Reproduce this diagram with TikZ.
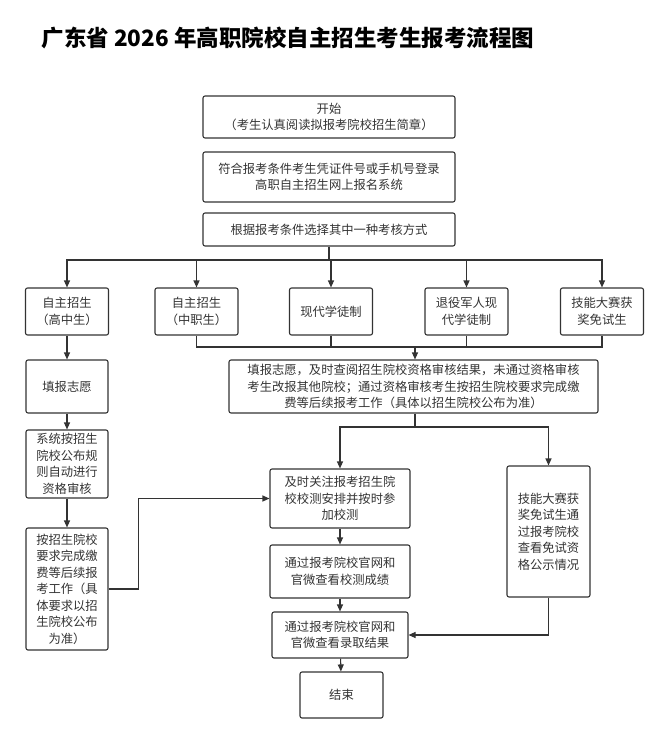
\documentclass[tikz,border=0pt]{standalone}
\usepackage{fontspec}
\setmainfont{Noto Sans CJK SC}
\usetikzlibrary{arrows.meta}
\begin{document}
\begin{tikzpicture}[x=1pt,y=-1pt,
  box/.style={draw=black!80,line width=1.1pt,rounded corners=2pt,align=center,inner sep=1pt,font=\fontsize{12.3}{16.5}\selectfont,text=black!80},
  arr/.style={draw=black!80,line width=1.1pt,-{Triangle[length=7pt,width=6pt]}},
  ln/.style={draw=black!80,line width=1.1pt}]
\useasboundingbox (0,0) rectangle (649,732);
\node[anchor=west,font=\fontsize{22.5}{26}\selectfont\bfseries] (title) at (38,38) {广东省 2026 年高职院校自主招生考生报考流程图};
\node[box,minimum width=252,minimum height=42] (s) at (329,117) {开始\\（考生认真阅读拟报考院校招生简章）};
\node[box,minimum width=252,minimum height=50] (b2) at (329,177) {符合报考条件考生凭证件号或手机号登录\\高职自主招生网上报名系统};
\node[box,minimum width=252,minimum height=33] (b3) at (329,229.5) {根据报考条件选择其中一种考核方式};
\foreach \n/\x/\t in {c1/67/{自主招生\\（高中生）},c2/196.5/{自主招生\\（中职生）},c3/331/{现代学徒制},c4/466.5/{退役军人现\\代学徒制},c5/602/{技能大赛获\\奖免试生}}
  \node[box,minimum width=83,minimum height=47] (\n) at (\x,311.5) {\t};
\coordinate (br) at (329,260);
\draw[ln] (b3) -- (br);
\foreach \n in {c1,c2,c3,c4,c5} \draw[arr] (br) -| (\n);
\node[box,minimum width=369,minimum height=53] (big) at (413.5,386.5) {填报志愿，及时查阅招生院校资格审核结果，未通过资格审核\\考生改报其他院校；通过资格审核考生按招生院校要求完成缴\\费等后续报考工作（具体以招生院校公布为准）};
\coordinate (m) at (415,347);
\draw[ln] (c2.south) |- (m) -| (c5.south);
\draw[ln] (c3) -- (c3|-m); \draw[ln] (c4) -- (c4|-m);
\draw[arr] (m) -- (m|-big.north);
\node[box,minimum width=82,minimum height=53] (l1) at (67,386.5) {填报志愿};
\node[box,minimum width=82,minimum height=68] (l2) at (67,464) {系统按招生\\院校公布规\\则自动进行\\资格审核};
\node[box,minimum width=82,minimum height=122] (l3) at (67,589) {按招生院校\\要求完成缴\\费等后续报\\考工作（具\\体要求以招\\生院校公布\\为准）};
\draw[arr] (c1) -- (l1); \draw[arr] (l1) -- (l2); \draw[arr] (l2) -- (l3);
\node[box,minimum width=140,minimum height=59] (r1) at (340,498.5) {及时关注报考招生院\\校校测安排并按时参\\加校测};
\node[box,minimum width=140,minimum height=53] (r2) at (340,571.5) {通过报考院校官网和\\官微查看校测成绩};
\node[box,minimum width=136,minimum height=46] (r3) at (340,635) {通过报考院校官网和\\官微查看录取结果};
\node[box,minimum width=83,minimum height=46] (end) at (341.5,695) {结束};
\node[box,minimum width=83,minimum height=131] (k) at (548.5,531.5) {技能大赛获\\奖免试生通\\过报考院校\\查看免试资\\格公示情况};
\coordinate (sp) at (415,427);
\draw[ln] (big.south-|sp) -- (sp);
\draw[arr] (sp) -| (r1.north);
\draw[arr] (sp) -| (k.north);
\draw[arr] (r1) -- (r2); \draw[arr] (r2) -- (r3); \draw[arr] (r3) -- (end);
\draw[arr] (k.south) |- (r3.east);
\draw[arr] (l3.east) -- ++(30,0) |- (r1.west);
\end{tikzpicture}
\end{document}
